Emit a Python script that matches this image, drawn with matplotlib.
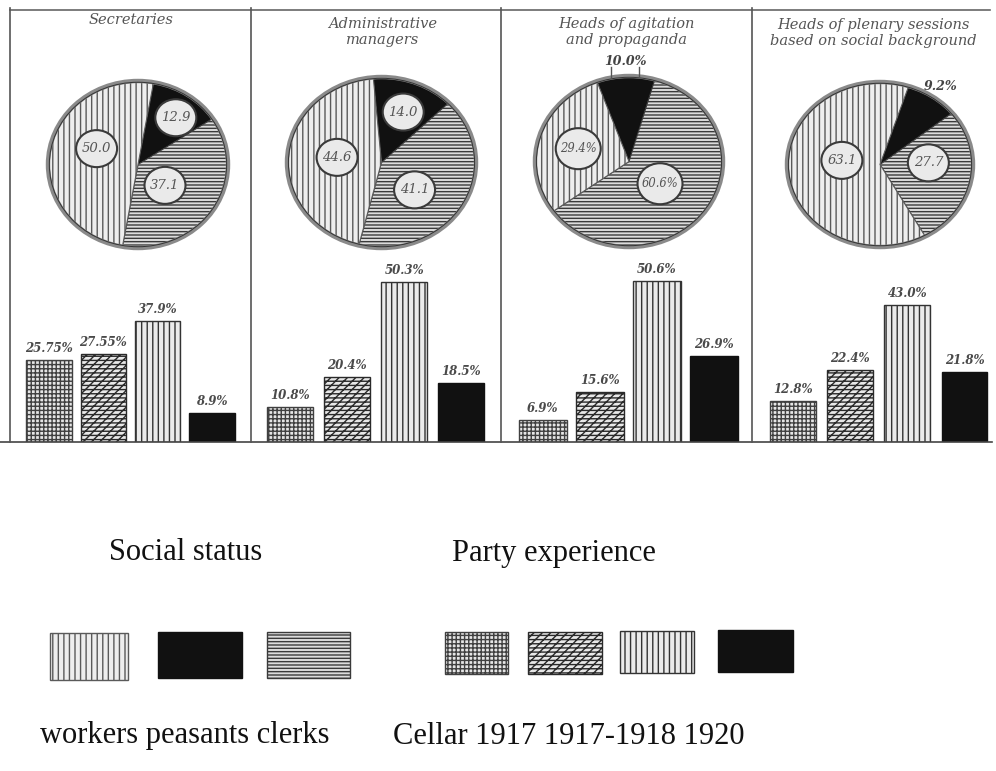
import matplotlib
matplotlib.use('Agg')
import matplotlib.pyplot as plt
from matplotlib.patches import Rectangle, Ellipse
from matplotlib.lines import Line2D

# ---------------- data ----------------
titles = ["Secretaries", "Administrative\nmanagers",
          "Heads of agitation\nand propaganda",
          "Heads of plenary sessions\nbased on social background"]
social_groups = ["workers", "peasants", "clerks"]
workers = [50.0, 44.6, 29.4, 63.1]
peasants = [12.9, 14.0, 10.0, 9.2]
clerks = [37.1, 41.1, 60.6, 27.7]
# label texts as printed on the pies (workers, peasants, clerks)
pie_texts = [["50.0", "12.9", "37.1"],
             ["44.6", "14.0", "41.1"],
             ["29.4%", "10.0%", "60.6%"],
             ["63.1", "9.2%", "27.7"]]

party_groups = ["Cellar", "1917", "1917-1918", "1920"]
cellar = [25.75, 10.8, 6.9, 12.8]
y1917 = [27.55, 20.4, 15.6, 22.4]
y1917_1918 = [37.9, 50.3, 50.6, 43.0]
y1920 = [8.9, 18.5, 26.9, 21.8]

# ---------------- styles ----------------
W, H = 996, 771
plt.rcParams['hatch.linewidth'] = 1.0
fig = plt.figure(figsize=(W / 100, H / 100), dpi=100)
fig.patch.set_facecolor('white')


def px_axes(x0, y0, x1, y1, **kw):
    return fig.add_axes([x0 / W, 1 - y1 / H, (x1 - x0) / W, (y1 - y0) / H], **kw)


social_style = {
    "workers": dict(facecolor='#eeeeee', edgecolor='#5a5a5a', hatch='|||'),
    "peasants": dict(facecolor='#111111', edgecolor='#111111', hatch=None),
    "clerks": dict(facecolor='#dcdcdc', edgecolor='#3a3a3a', hatch='-----'),
}
party_style = {
    "Cellar": dict(facecolor='#e6e6e6', edgecolor='#404040', hatch='++++'),
    "1917": dict(facecolor='#e8e8e8', edgecolor='#2a2a2a', hatch='////----'),
    "1917-1918": dict(facecolor='#ebebeb', edgecolor='#333333', hatch='|||'),
    "1920": dict(facecolor='#111111', edgecolor='#111111', hatch=None),
}

# pie boxes in pixels (x0, y0, x1, y1) and start angles
pie_boxes = [(48, 81, 228, 248), (287, 77, 476, 248),
             (535, 76, 723, 247), (787, 82, 973, 247)]
start_angles = [80, 95, 110, 72]
# label positions in pie coordinates (workers, peasants, clerks)
label_pos = [[(-0.46, 0.19), (0.42, 0.56), (0.30, -0.25)],
             [(-0.47, 0.06), (0.23, 0.59), (0.35, -0.32)],
             [(-0.54, 0.15), (-0.04, 1.17), (0.33, -0.26)],
             [(-0.41, 0.05), (0.65, 0.94), (0.52, 0.02)]]
# which labels sit outside the pie (plain, no bubble)
outside = [[False, False, False], [False, False, False],
           [False, True, False], [False, True, False]]
bubble_px = [(41, 37), (41, 37), (45, 41), (41, 37)]
bubble_font = [9.5, 9.5, 8.3, 9.5]

title_x = [131, 383, 626, 873]
title_y = [20, 32, 32, 33]

bar_axes_x = [(21.8, 239.2), (262.0, 489.5), (514.0, 742.6), (764.4, 993.0)]
bar_widths = [0.83, 0.81, 0.84, 0.80]
baseline_px = 441.7
px_per_unit = 3.18
ymax = 60

# ---------------- frame lines ----------------
def fig_line(xs, ys, **kw):
    fig.add_artist(Line2D([x / W for x in xs], [1 - y / H for y in ys],
                          transform=fig.transFigure, **kw))

fig_line([10, 990], [10, 10], color='#666666', lw=1.2)
fig_line([0, 992], [baseline_px, baseline_px], color='#444444', lw=1.2)
for xv in [10, 251, 501, 752]:
    fig_line([xv, xv], [8, baseline_px], color='#555555', lw=1.2)

# ---------------- titles ----------------
for i, t in enumerate(titles):
    fig.text(title_x[i] / W, 1 - title_y[i] / H, t, ha='center', va='center',
             fontsize=10.5, family='DejaVu Serif', style='italic',
             color='#555555', linespacing=1.15)

# ---------------- pies ----------------
for i in range(4):
    x0, y0, x1, y1 = pie_boxes[i]
    ax = px_axes(x0, y0, x1, y1)
    vals = [peasants[i], clerks[i], workers[i]]
    keys = ["peasants", "clerks", "workers"]
    wedges, _ = ax.pie(vals, startangle=start_angles[i], counterclock=False,
                       radius=1.0, wedgeprops=dict(linewidth=0.8))
    for w, k in zip(wedges, keys):
        st = social_style[k]
        w.set_facecolor(st['facecolor'])
        w.set_edgecolor(st['edgecolor'])
        if st['hatch']:
            w.set_hatch(st['hatch'])
    ax.add_patch(Ellipse((0, 0), 2.0, 2.0, fill=False, edgecolor='#8a8a8a',
                         lw=3.2, clip_on=False, zorder=5))
    ax.add_patch(Ellipse((0, 0), 1.97, 1.97, fill=False, edgecolor='#333333',
                         lw=0.7, clip_on=False, zorder=6))
    ax.set_aspect('auto')
    ax.set_xlim(-1, 1)
    ax.set_ylim(-1, 1)
    ax.axis('off')
    bw = bubble_px[i][0] / ((x1 - x0) / 2)
    bh = bubble_px[i][1] / ((y1 - y0) / 2)
    for j in range(3):
        px, py = label_pos[i][j]
        txt = pie_texts[i][j]
        if outside[i][j]:
            ax.text(px, py, txt, ha='center', va='center', fontsize=9,
                    family='DejaVu Serif', style='italic', weight='bold',
                    color='#444444', zorder=10, clip_on=False)
            if i == 2:
                for dx in (-0.15, 0.15):
                    ax.plot([px + dx, px + dx], [py - 0.07, py - 0.18],
                            color='#555555', lw=1.0, clip_on=False, zorder=10)
        else:
            ax.add_patch(Ellipse((px, py), bw, bh, facecolor='#eaeaea',
                                 edgecolor='#3a3a3a', lw=1.5, zorder=9,
                                 clip_on=False))
            ax.text(px, py, txt, ha='center', va='center',
                    fontsize=bubble_font[i],
                    family='DejaVu Serif', style='italic', color='#555555',
                    zorder=10, clip_on=False)

# ---------------- bars ----------------
series = [cellar, y1917, y1917_1918, y1920]


def fmt(v):
    return f"{v:.2f}%" if round(v, 1) != v else f"{v:.1f}%"


for i in range(4):
    xa, xb = bar_axes_x[i]
    ax = px_axes(xa, baseline_px - ymax * px_per_unit, xb, baseline_px)
    vals = [s[i] for s in series]
    for j, (g, v) in enumerate(zip(party_groups, vals)):
        st = party_style[g]
        ax.bar(j, v, width=bar_widths[i], facecolor=st['facecolor'],
               edgecolor=st['edgecolor'], hatch=st['hatch'], linewidth=1.0)
        ax.text(j, v + 1.6, fmt(v), ha='center', va='bottom', fontsize=8.5,
                family='DejaVu Serif', style='italic', weight='bold',
                color='#4a4a4a')
    ax.set_xlim(-0.5, 3.5)
    ax.set_ylim(0, ymax)
    ax.axis('off')

# ---------------- legend ----------------
lax = fig.add_axes([0, 0, 1, 1], zorder=-1)
lax.set_xlim(0, W)
lax.set_ylim(H, 0)
lax.axis('off')

social_boxes = [(50, 633, 128, 680), (158, 632, 242, 678), (267, 632, 350, 678)]
party_boxes = [(445, 632, 508, 674), (528, 632, 602, 674),
               (620, 631, 694, 673), (718, 630, 793, 672)]
for g, (a, b, c, d) in zip(social_groups, social_boxes):
    st = social_style[g]
    lax.add_patch(Rectangle((a, b), c - a, d - b, facecolor=st['facecolor'],
                            edgecolor=st['edgecolor'], hatch=st['hatch'], lw=1.0))
for g, (a, b, c, d) in zip(party_groups, party_boxes):
    st = party_style[g]
    lax.add_patch(Rectangle((a, b), c - a, d - b, facecolor=st['facecolor'],
                            edgecolor=st['edgecolor'], hatch=st['hatch'], lw=1.0))

serif = 'Liberation Serif'
lax.text(186, 553, "Social status", ha='center', va='center', fontsize=22,
         family=serif, color='#111111')
lax.text(554, 553, "Party experience", ha='center', va='center', fontsize=22,
         family=serif, color='#111111')
lax.text(40, 736, " ".join(social_groups), ha='left', va='center', fontsize=22,
         family=serif, color='#111111')
lax.text(393, 736, " ".join(party_groups), ha='left', va='center', fontsize=22,
         family=serif, color='#111111')

fig.savefig('out.png', dpi=100, facecolor='white')
